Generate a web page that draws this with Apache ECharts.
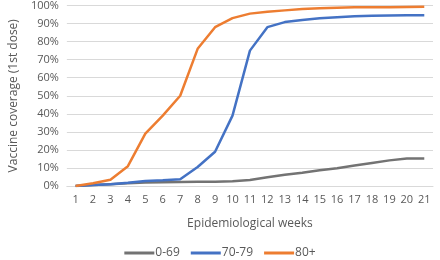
<!DOCTYPE html>
<html>
<head>
<meta charset="utf-8">
<script src="https://cdn.jsdelivr.net/npm/echarts@6/dist/echarts.min.js"></script>
<style>
  html, body { margin: 0; padding: 0; background: #fff; }
  #chart { width: 440px; height: 260px; }
</style>
</head>
<body>
<div id="chart"></div>
<script>
var weeks = ['1','2','3','4','5','6','7','8','9','10','11','12','13','14','15','16','17','18','19','20','21'];
var age0_69 = [0, 0.5, 1, 1.5, 2, 2.1, 2.2, 2.3, 2.4, 2.6, 3.3, 4.8, 6.2, 7.4, 8.7, 9.8, 11.3, 12.8, 14.2, 15.2, 15.2];
var age70_79 = [0, 0.5, 1, 1.8, 2.8, 3.2, 3.7, 10.5, 19, 39, 75, 88, 90.8, 92, 93, 93.5, 94, 94.3, 94.5, 94.6, 94.6];
var age80plus = [0, 1.5, 3.5, 11, 29, 39, 50, 76, 88, 93, 95.5, 96.5, 97.3, 98, 98.5, 98.8, 99, 99, 99, 99.2, 99.3];

var chart = echarts.init(document.getElementById('chart'));
var txt = '#595959';

var option = {
  animation: false,
  textStyle: { fontFamily: 'Open Sans', color: txt },
  grid: { left: 53, right: 7, top: 5, bottom: 74 },
  legend: {
    bottom: -4,
    left: 'center',
    itemWidth: 30,
    itemHeight: 3,
    itemGap: 11,
    icon: 'rect',
    textStyle: { color: txt, fontSize: 12, padding: [0, 0, 0, -4] },
    data: ['0-69', '70-79', '80+']
  },
  xAxis: {
    type: 'category',
    data: weeks,
    boundaryGap: true,
    name: 'Epidemiological weeks',
    nameLocation: 'middle',
    nameGap: 32,
    nameTextStyle: { color: txt, fontSize: 12 },
    axisLine: { lineStyle: { color: '#d9d9d9' } },
    axisTick: { show: false },
    axisLabel: { color: txt, fontSize: 11, interval: 0 }
  },
  yAxis: {
    type: 'value',
    min: 0,
    max: 100,
    interval: 10,
    name: 'Vaccine coverage (1st dose)',
    nameLocation: 'middle',
    nameGap: 43,
    nameTextStyle: { color: txt, fontSize: 12 },
    axisLine: { show: false },
    axisTick: { show: false },
    axisLabel: { color: txt, fontSize: 11, formatter: '{value}%' },
    splitLine: { lineStyle: { color: '#d9d9d9' } }
  },
  series: [
    { name: '0-69', type: 'line', data: age0_69, showSymbol: false, lineStyle: { width: 2.5, color: '#737373' }, itemStyle: { color: '#737373' } },
    { name: '70-79', type: 'line', data: age70_79, showSymbol: false, lineStyle: { width: 2.5, color: '#4472C4' }, itemStyle: { color: '#4472C4' } },
    { name: '80+', type: 'line', data: age80plus, showSymbol: false, lineStyle: { width: 2.5, color: '#ED7D31' }, itemStyle: { color: '#ED7D31' } }
  ]
};
chart.setOption(option);
</script>
</body>
</html>
